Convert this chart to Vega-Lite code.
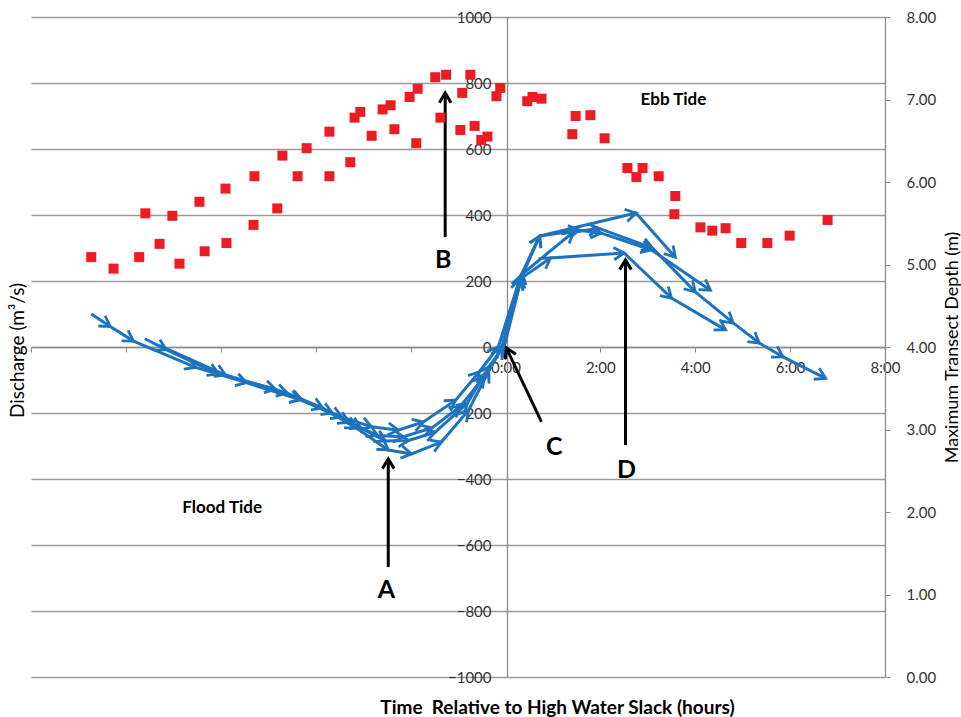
{
  "$schema": "https://vega.github.io/schema/vega-lite/v6.json",
  "width": 854,
  "height": 660,
  "autosize": {"type": "none"},
  "padding": {"left": 31, "top": 17, "right": 76, "bottom": 40},
  "background": "white",
  "config": {
    "view": {"stroke": null},
    "font": "Lato",
    "axis": {"labelFont": "Lato", "titleFont": "Lato"}
  },
  "datasets": {
    "flow": [
      {"cycle": 1, "seq": 1, "h": -8.73, "q": 100},
      {"cycle": 1, "seq": 2, "h": -8.33, "q": 62},
      {"cycle": 1, "seq": 3, "h": -7.84, "q": 18},
      {"cycle": 1, "seq": 4, "h": -6.53, "q": -62},
      {"cycle": 1, "seq": 5, "h": -5.46, "q": -108},
      {"cycle": 1, "seq": 6, "h": -4.32, "q": -160},
      {"cycle": 1, "seq": 7, "h": -3.45, "q": -212},
      {"cycle": 1, "seq": 8, "h": -2.82, "q": -242},
      {"cycle": 1, "seq": 9, "h": -2.26, "q": -252},
      {"cycle": 1, "seq": 10, "h": -1.73, "q": -227},
      {"cycle": 1, "seq": 11, "h": -1.05, "q": -161},
      {"cycle": 1, "seq": 12, "h": -0.55, "q": -75},
      {"cycle": 1, "seq": 13, "h": -0.15, "q": 0},
      {"cycle": 1, "seq": 14, "h": 0.32, "q": 215},
      {"cycle": 1, "seq": 15, "h": 0.72, "q": 336},
      {"cycle": 1, "seq": 16, "h": 2.75, "q": 406},
      {"cycle": 1, "seq": 17, "h": 3.58, "q": 272},
      {"cycle": 2, "seq": 1, "h": -7.6, "q": 25},
      {"cycle": 2, "seq": 2, "h": -7.15, "q": -8},
      {"cycle": 2, "seq": 3, "h": -6.05, "q": -82},
      {"cycle": 2, "seq": 4, "h": -4.85, "q": -128},
      {"cycle": 2, "seq": 5, "h": -3.65, "q": -200},
      {"cycle": 2, "seq": 6, "h": -3.05, "q": -245},
      {"cycle": 2, "seq": 7, "h": -2.53, "q": -285},
      {"cycle": 2, "seq": 8, "h": -2.04, "q": -283},
      {"cycle": 2, "seq": 9, "h": -1.48, "q": -258},
      {"cycle": 2, "seq": 10, "h": -0.8, "q": -170},
      {"cycle": 2, "seq": 11, "h": -0.35, "q": -60},
      {"cycle": 2, "seq": 12, "h": -0.02, "q": 5},
      {"cycle": 2, "seq": 13, "h": 0.36, "q": 222},
      {"cycle": 2, "seq": 14, "h": 1.43, "q": 348},
      {"cycle": 2, "seq": 15, "h": 1.96, "q": 360},
      {"cycle": 2, "seq": 16, "h": 3.1, "q": 300},
      {"cycle": 2, "seq": 17, "h": 4.0, "q": 167},
      {"cycle": 2, "seq": 18, "h": 4.8, "q": 73},
      {"cycle": 2, "seq": 19, "h": 5.35, "q": 12},
      {"cycle": 2, "seq": 20, "h": 5.85, "q": -30},
      {"cycle": 2, "seq": 21, "h": 6.75, "q": -95},
      {"cycle": 3, "seq": 1, "h": -7.3, "q": 5},
      {"cycle": 3, "seq": 2, "h": -5.9, "q": -85},
      {"cycle": 3, "seq": 3, "h": -4.6, "q": -140},
      {"cycle": 3, "seq": 4, "h": -3.85, "q": -185},
      {"cycle": 3, "seq": 5, "h": -3.15, "q": -245},
      {"cycle": 3, "seq": 6, "h": -2.47, "q": -312},
      {"cycle": 3, "seq": 7, "h": -1.98, "q": -324},
      {"cycle": 3, "seq": 8, "h": -1.35, "q": -288},
      {"cycle": 3, "seq": 9, "h": -0.78, "q": -192},
      {"cycle": 3, "seq": 10, "h": -0.36, "q": -75},
      {"cycle": 3, "seq": 11, "h": -0.08, "q": -3},
      {"cycle": 3, "seq": 12, "h": 0.3, "q": 205},
      {"cycle": 3, "seq": 13, "h": 0.95, "q": 270},
      {"cycle": 3, "seq": 14, "h": 2.5, "q": 285},
      {"cycle": 3, "seq": 15, "h": 3.5, "q": 148},
      {"cycle": 3, "seq": 16, "h": 4.64, "q": 52},
      {"cycle": 4, "seq": 1, "h": -5.5, "q": -105},
      {"cycle": 4, "seq": 2, "h": -4.3, "q": -158},
      {"cycle": 4, "seq": 3, "h": -3.3, "q": -228},
      {"cycle": 4, "seq": 4, "h": -2.7, "q": -268},
      {"cycle": 4, "seq": 5, "h": -2.15, "q": -272},
      {"cycle": 4, "seq": 6, "h": -1.55, "q": -245},
      {"cycle": 4, "seq": 7, "h": -0.95, "q": -180},
      {"cycle": 4, "seq": 8, "h": -0.45, "q": -90},
      {"cycle": 4, "seq": 9, "h": -0.05, "q": 2},
      {"cycle": 4, "seq": 10, "h": 0.34, "q": 212},
      {"cycle": 4, "seq": 11, "h": 0.72, "q": 336},
      {"cycle": 4, "seq": 12, "h": 1.55, "q": 354},
      {"cycle": 4, "seq": 13, "h": 2.02, "q": 345},
      {"cycle": 4, "seq": 14, "h": 3.08, "q": 294},
      {"cycle": 4, "seq": 15, "h": 4.32, "q": 172}
    ],
    "depth": [
      {"h": -8.73, "depth": 5.09}, {"h": -8.26, "depth": 4.95}, {"h": -7.72, "depth": 5.09},
      {"h": -7.59, "depth": 5.62}, {"h": -7.29, "depth": 5.25}, {"h": -7.02, "depth": 5.59},
      {"h": -6.87, "depth": 5.01}, {"h": -6.45, "depth": 5.76}, {"h": -6.34, "depth": 5.16},
      {"h": -5.9, "depth": 5.92}, {"h": -5.88, "depth": 5.26}, {"h": -5.31, "depth": 5.48},
      {"h": -5.29, "depth": 6.07}, {"h": -4.81, "depth": 5.68}, {"h": -4.7, "depth": 6.32},
      {"h": -4.38, "depth": 6.07}, {"h": -4.19, "depth": 6.41}, {"h": -3.71, "depth": 6.61},
      {"h": -3.71, "depth": 6.07}, {"h": -3.27, "depth": 6.24}, {"h": -3.18, "depth": 6.78},
      {"h": -3.06, "depth": 6.85}, {"h": -2.82, "depth": 6.56}, {"h": -2.59, "depth": 6.88},
      {"h": -2.42, "depth": 6.93}, {"h": -2.34, "depth": 6.64}, {"h": -2.02, "depth": 7.03},
      {"h": -1.85, "depth": 7.13}, {"h": -1.88, "depth": 6.47}, {"h": -1.48, "depth": 7.27},
      {"h": -1.25, "depth": 7.3}, {"h": -1.37, "depth": 6.78}, {"h": -0.91, "depth": 7.08},
      {"h": -0.95, "depth": 6.63}, {"h": -0.74, "depth": 7.3}, {"h": -0.65, "depth": 6.68},
      {"h": -0.51, "depth": 6.51}, {"h": -0.38, "depth": 6.55}, {"h": -0.19, "depth": 7.04},
      {"h": -0.11, "depth": 7.14}, {"h": 0.46, "depth": 6.98}, {"h": 0.57, "depth": 7.03},
      {"h": 0.76, "depth": 7.01}, {"h": 1.41, "depth": 6.58}, {"h": 1.48, "depth": 6.8},
      {"h": 1.79, "depth": 6.81}, {"h": 2.09, "depth": 6.53}, {"h": 2.57, "depth": 6.17},
      {"h": 2.76, "depth": 6.06}, {"h": 2.89, "depth": 6.17}, {"h": 3.23, "depth": 6.07},
      {"h": 3.58, "depth": 5.83}, {"h": 3.56, "depth": 5.61}, {"h": 4.11, "depth": 5.45},
      {"h": 4.36, "depth": 5.41}, {"h": 4.64, "depth": 5.44}, {"h": 4.97, "depth": 5.26},
      {"h": 5.52, "depth": 5.26}, {"h": 5.99, "depth": 5.35}, {"h": 6.79, "depth": 5.54}
    ],
    "labels": [
      {"label": "A", "kind": "letter", "h": -2.51, "q": -736},
      {"label": "B", "kind": "letter", "h": -1.31, "q": 264},
      {"label": "C", "kind": "letter", "h": 1.03, "q": -303},
      {"label": "D", "kind": "letter", "h": 2.55, "q": -373},
      {"label": "Flood Tide", "kind": "tide", "h": -5.97, "q": -488},
      {"label": "Ebb Tide", "kind": "tide", "h": 3.54, "q": 748}
    ],
    "pointers": [
      {"id": "A", "h": -2.47, "q": -339, "th": -2.47, "tq": -667},
      {"id": "B", "h": -1.27, "q": 770, "th": -1.27, "tq": 333},
      {"id": "C", "h": 0.02, "q": -3, "th": 0.76, "tq": -227},
      {"id": "D", "h": 2.53, "q": 264, "th": 2.53, "tq": -297}
    ]
  },
  "layer": [
    {
      "encoding": {
        "x": {
          "field": "h", "type": "quantitative",
          "scale": {"domain": [-10, 8], "nice": false, "zero": false},
          "axis": {
            "orient": "bottom", "offset": -330,
            "values": [-10, -8, -6, -4, -2, 0, 2, 4, 6, 8],
            "labelExpr": "datum.value >= 0 ? datum.value + ':00' : ''",
            "grid": false, "ticks": true, "tickSize": 5, "tickColor": "#8c8c8c",
            "domainColor": "#8c8c8c", "domainWidth": 1.3,
            "labelFontSize": 15, "labelColor": "#333333", "labelPadding": 8,
            "labelFlush": false, "labelOverlap": false,
            "title": "Time \u00a0Relative to High Water Slack (hours)",
            "titleFontSize": 19, "titleFontWeight": "bold", "titleColor": "#000000",
            "titleX": 526, "titleY": 360, "titleAlign": "center", "titleBaseline": "middle", "titleAngle": 0
          }
        },
        "y": {
          "field": "q", "type": "quantitative",
          "scale": {"domain": [-1000, 1000], "nice": false},
          "axis": {
            "orient": "left", "offset": -476, "format": "d",
            "values": [-1000, -800, -600, -400, -200, 0, 200, 400, 600, 800, 1000],
            "grid": true, "gridColor": "#9a9a9a", "gridWidth": 1.3,
            "ticks": false, "tickSize": 0, "labelPadding": 16,
            "domainColor": "#8c8c8c", "domainWidth": 1.3,
            "labelFontSize": 15, "labelColor": "#333333", "labelFlush": false, "labelOverlap": false,
            "title": "Discharge (m³/s)", "titleFontSize": 19, "titleFontWeight": "normal", "titleColor": "#000000",
            "titleX": -490, "titleY": 333, "titleAngle": -90, "titleAlign": "center", "titleBaseline": "middle"
          }
        }
      },
      "layer": [
        {
          "data": {"name": "flow"},
          "mark": {"type": "line", "color": "#1e73be", "strokeWidth": 3},
          "encoding": {"detail": {"field": "cycle"}, "order": {"field": "seq", "type": "quantitative"}}
        },
        {
          "data": {"name": "flow"},
          "transform": [
            {"window": [{"op": "lag", "field": "h", "as": "ph"}, {"op": "lag", "field": "q", "as": "pq"}],
             "groupby": ["cycle"], "sort": [{"field": "seq", "order": "ascending"}]},
            {"filter": "datum.ph != null"},
            {"calculate": "atan2(-(datum.q - datum.pq) * 660 / 2000, (datum.h - datum.ph) * 854 / 18) * 180 / PI", "as": "ang"}
          ],
          "mark": {"type": "point", "shape": "M-1,-0.6L0,0L-1,0.6", "filled": false, "color": "#1e73be", "strokeWidth": 2.8, "size": 420, "opacity": 1},
          "encoding": {"angle": {"field": "ang", "type": "quantitative", "scale": null}}
        },
        {
          "data": {"name": "pointers"},
          "mark": {"type": "rule", "color": "#000000", "strokeWidth": 3},
          "encoding": {"x2": {"field": "th"}, "y2": {"field": "tq"}}
        },
        {
          "data": {"name": "pointers"},
          "transform": [
            {"calculate": "atan2(-(datum.q - datum.tq) * 660 / 2000, (datum.h - datum.th) * 854 / 18) * 180 / PI", "as": "ang"}
          ],
          "mark": {"type": "point", "shape": "M-1,-0.6L0,0L-1,0.6", "filled": false, "color": "#000000", "strokeWidth": 3, "size": 380, "opacity": 1},
          "encoding": {"angle": {"field": "ang", "type": "quantitative", "scale": null}}
        },
        {
          "data": {"name": "labels"},
          "transform": [{"filter": "datum.kind == 'letter'"}],
          "mark": {"type": "text", "font": "Lato", "fontSize": 25, "fontWeight": "bold", "color": "#000000", "align": "center", "baseline": "middle"},
          "encoding": {"text": {"field": "label"}}
        },
        {
          "data": {"name": "labels"},
          "transform": [{"filter": "datum.kind == 'tide'"}],
          "mark": {"type": "text", "font": "Lato", "fontSize": 17, "fontWeight": "bold", "color": "#000000", "align": "center", "baseline": "middle"},
          "encoding": {"text": {"field": "label"}}
        }
      ]
    },
    {
      "data": {"name": "depth"},
      "mark": {"type": "square", "color": "#ed1c24", "size": 100, "opacity": 1},
      "encoding": {
        "x": {
          "field": "h", "type": "quantitative",
          "scale": {"domain": [-10, 8], "nice": false, "zero": false},
          "axis": {
            "orient": "bottom", "offset": -330,
            "values": [-10, -8, -6, -4, -2, 0, 2, 4, 6, 8],
            "labelExpr": "datum.value >= 0 ? datum.value + ':00' : ''",
            "grid": false, "ticks": true, "tickSize": 5, "tickColor": "#8c8c8c",
            "domainColor": "#8c8c8c", "domainWidth": 1.3,
            "labelFontSize": 15, "labelColor": "#333333", "labelPadding": 8,
            "labelFlush": false, "labelOverlap": false,
            "title": "Time \u00a0Relative to High Water Slack (hours)",
            "titleFontSize": 19, "titleFontWeight": "bold", "titleColor": "#000000",
            "titleX": 526, "titleY": 360, "titleAlign": "center", "titleBaseline": "middle", "titleAngle": 0
          }
        },
        "y": {
          "field": "depth", "type": "quantitative",
          "scale": {"domain": [0, 8], "nice": false},
          "axis": {
            "orient": "right", "values": [0, 1, 2, 3, 4, 5, 6, 7, 8], "format": ".2f",
            "grid": false, "ticks": true, "tickSize": 5, "tickColor": "#8c8c8c",
            "domainColor": "#8c8c8c", "domainWidth": 1.3, "labelPadding": 16,
            "labelFontSize": 15, "labelColor": "#333333", "labelFlush": false, "labelOverlap": false,
            "title": "Maximum Transect Depth (m)", "titleFontSize": 18, "titleFontWeight": "normal", "titleColor": "#000000",
            "titleX": 67, "titleY": 330, "titleAngle": -90, "titleAlign": "center", "titleBaseline": "middle"
          }
        }
      }
    }
  ],
  "resolve": {"scale": {"y": "independent"}}
}
